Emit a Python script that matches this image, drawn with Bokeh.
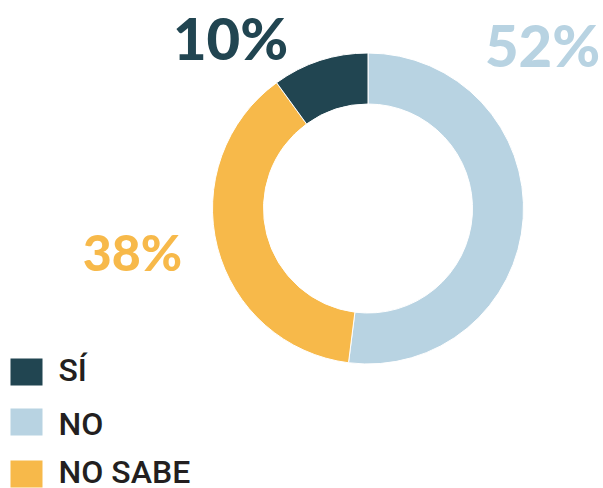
import numpy as np
from bokeh.plotting import figure
from bokeh.models import ColumnDataSource
from bokeh.core.properties import value
from bokeh.embed import file_html
from bokeh.resources import INLINE

# ---- data ----
categories = ["SÍ", "NO", "NO SABE"]
values = [10, 52, 38]
labels = ["10%", "52%", "38%"]
colors = ["#214551", "#b8d3e2", "#f7b94a"]

# ---- layout (pixels in plot space, origin bottom-left) ----
W, H = 603, 488
cx, cy = 367.5, 280.0
r_out, r_in = 155.5, 104.5
label_pos = {"SÍ": (230, 451), "NO": (542, 444), "NO SABE": (132, 237)}
label_size = {"SÍ": "58px", "NO": "58px", "NO SABE": "50px"}
legend_y = [116.5, 66.5, 14.5]
legend_text_y = [119, 65, 17]

p = figure(width=W, height=H, x_range=(0, W), y_range=(0, H),
           output_backend="svg", toolbar_location=None, min_border=0)
p.axis.visible = False
p.grid.visible = False
p.outline_line_color = None
p.background_fill_color = "white"
p.border_fill_color = "white"

# donut: clockwise from top: NO, NO SABE, SÍ
order = ["NO", "NO SABE", "SÍ"]
total = float(sum(values))
ang = np.pi / 2
starts, ends, cols = [], [], []
for c in order:
    i = categories.index(c)
    sweep = values[i] / total * 2 * np.pi
    starts.append(ang - sweep)
    ends.append(ang)
    cols.append(colors[i])
    ang -= sweep

src = ColumnDataSource(dict(x=[cx] * 3, y=[cy] * 3, s=starts, e=ends, c=cols))
p.annular_wedge(x="x", y="y", inner_radius=r_in, outer_radius=r_out,
                start_angle="s", end_angle="e", fill_color="c",
                line_color="white", line_width=1, direction="anticlock", source=src)

for i, c in enumerate(categories):
    lx, ly = label_pos[c]
    p.text(x=[lx], y=[ly], text=[labels[i]], text_color=colors[i],
           text_font=value("Lato Black, Lato"), text_font_style="bold",
           text_font_size=label_size[c], text_align="center",
           text_baseline="alphabetic")

# legend
lx0, lw, lh = 26, 32, 27
p.rect(x=[lx0] * 3, y=legend_y, width=lw, height=lh, fill_color=colors, line_color=None)
p.text(x=[58] * 3, y=legend_text_y, text=categories, text_color="#231f20",
       text_font=value("Roboto Medium, Roboto"), text_font_size="32px",
       text_align="left", text_baseline="alphabetic")

open("out.html", "w").write(file_html(p, INLINE))
